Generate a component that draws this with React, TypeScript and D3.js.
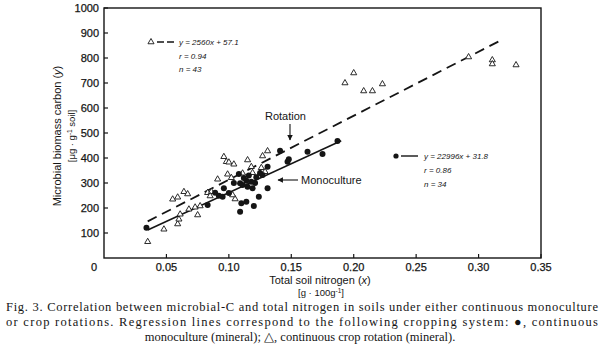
import React from "react";
import * as d3 from "d3";

const rotationX = [0.193,0.200,0.208,0.215,0.223,0.292,0.311,0.311,0.330,0.035,0.048,0.059,0.060,0.061,0.055,0.059,0.064,0.067,0.068,0.073,0.075,0.077,0.083,0.086,0.091,0.096,0.098,0.100,0.104,0.099,0.102,0.105,0.103,0.111,0.115,0.118,0.119,0.126,0.127,0.131,0.125,0.129,0.085];
const rotationY = [700,740,668,668,696,804,792,776,772,65,115,136,155,175,235,243,265,256,195,203,172,208,261,265,315,405,385,383,375,335,321,236,252,339,392,365,341,361,408,428,339,345,248];

const monoX = [0.034,0.083,0.092,0.096,0.095,0.089,0.108,0.109,0.111,0.114,0.115,0.118,0.119,0.122,0.110,0.114,0.109,0.120,0.124,0.131,0.127,0.131,0.141,0.148,0.147,0.163,0.175,0.187,0.100,0.104,0.112,0.116,0.121,0.125];
const monoY = [121,212,249,279,245,261,336,299,292,309,285,305,279,323,219,225,185,208,245,279,332,365,429,395,385,425,416,468,260,300,320,330,300,340];

const xTicks = [0.05,0.10,0.15,0.20,0.25,0.30,0.35];
const xTickLabels = ["0.05","0.10","0.15","0.20","0.25","0.30","0.35"];
const yTicks = [100,200,300,400,500,600,700,800,900,1000];

const rotLine = { slope: 2560, intercept: 57.1, x0: 0.035, x1: 0.32 };
const monoLine = { slope: 2299.6, intercept: 31.8, x0: 0.035, x1: 0.19 };

const caption = [
  "Fig. 3. Correlation between microbial-C and total nitrogen in soils under either continuous monoculture",
  "or crop rotations. Regression lines correspond to the following cropping system: \u25CF, continuous",
  "monoculture (mineral); \u25B3, continuous crop rotation (mineral).",
];

export default function App() {
  const x = d3.scaleLinear().domain([0, 0.35]).range([104, 541]);
  const y = d3.scaleLinear().domain([0, 1000]).range([258, 8]);
  const line = d3.line<[number, number]>().x(d => x(d[0])).y(d => y(d[1]));
  const tri = d3.symbol().type(d3.symbolTriangle).size(16)();
  const ink = "#151515";
  const sans = "'Liberation Sans', Arial, sans-serif";
  const serif = "'Liberation Serif', 'Times New Roman', serif";
  const rotPts: [number, number][] = [[rotLine.x0, rotLine.slope * rotLine.x0 + rotLine.intercept], [rotLine.x1, rotLine.slope * rotLine.x1 + rotLine.intercept]];
  const monoPts: [number, number][] = [[monoLine.x0, monoLine.slope * monoLine.x0 + monoLine.intercept], [monoLine.x1, monoLine.slope * monoLine.x1 + monoLine.intercept]];

  return (
    <svg width={605} height={351} style={{ position: "absolute", left: 0, top: 0, background: "#fff" }}>
      <defs>
        <marker id="ah" viewBox="0 0 10 10" refX="9" refY="5" markerWidth="5" markerHeight="5" orient="auto">
          <path d="M0,0 L10,5 L0,10 z" fill={ink} />
        </marker>
      </defs>
      {/* frame */}
      <rect x={x(0)} y={y(1000)} width={x(0.35) - x(0)} height={y(0) - y(1000)} fill="none" stroke={ink} strokeWidth={1.4} />
      {/* y ticks */}
      {yTicks.map(t => (
        <g key={t}>
          <line x1={x(0)} x2={x(0) + 4} y1={y(t)} y2={y(t)} stroke={ink} strokeWidth={1.2} />
          <text x={99} y={y(t) + 4} textAnchor="end" fontFamily={sans} fontSize={11} fill={ink} stroke={ink} strokeWidth={0.25}>{t}</text>
        </g>
      ))}
      {/* x ticks */}
      {xTicks.map((t, i) => (
        <g key={t}>
          <line x1={x(t)} x2={x(t)} y1={y(0)} y2={y(0) - 4} stroke={ink} strokeWidth={1.2} />
          <text x={x(t)} y={271} textAnchor="middle" fontFamily={sans} fontSize={11} fill={ink} stroke={ink} strokeWidth={0.25}>{xTickLabels[i]}</text>
        </g>
      ))}
      <text x={94} y={271} textAnchor="middle" fontFamily={sans} fontSize={11} fill={ink} stroke={ink} strokeWidth={0.25}>0</text>

      {/* axis titles */}
      <text transform="translate(61,136) rotate(-90)" textAnchor="middle" fontFamily={sans} fontSize={11} fill={ink}>Microbial biomass carbon (<tspan fontStyle="italic">y</tspan>)</text>
      <text transform="translate(75,136) rotate(-90)" textAnchor="middle" fontFamily={sans} fontSize={9.5} fill={ink}>[μg · g<tspan dy={-3} fontSize={6.5}>-1</tspan><tspan dy={3}> soil]</tspan></text>
      <text x={320} y={284} textAnchor="middle" fontFamily={sans} fontSize={11} fill={ink}>Total soil nitrogen (<tspan fontStyle="italic">x</tspan>)</text>
      <text x={321} y={296} textAnchor="middle" fontFamily={sans} fontSize={9.5} fill={ink}>[g · 100g<tspan dy={-3} fontSize={6.5}>-1</tspan><tspan dy={3}>]</tspan></text>

      {/* regression lines */}
      <path d={line(rotPts) || ""} stroke={ink} strokeWidth={1.8} fill="none" strokeDasharray="10,6" />
      <path d={line(monoPts) || ""} stroke={ink} strokeWidth={1.6} fill="none" />

      {/* points */}
      {rotationX.map((v, i) => (
        <path key={"r" + i} d={tri || ""} transform={`translate(${x(v)},${y(rotationY[i])})`} fill="#fff" stroke={ink} strokeWidth={0.9} />
      ))}
      {monoX.map((v, i) => (
        <circle key={"m" + i} cx={x(v)} cy={y(monoY[i])} r={3} fill={ink} />
      ))}

      {/* annotations */}
      <text x={265} y={120} fontFamily={sans} fontSize={11} fill={ink}>Rotation</text>
      <line x1={290} x2={290} y1={124} y2={140} stroke={ink} strokeWidth={1.1} markerEnd="url(#ah)" />
      <text x={301} y={184} fontFamily={sans} fontSize={11} fill={ink}>Monoculture</text>
      <line x1={298} x2={278} y1={180} y2={180} stroke={ink} strokeWidth={1.1} markerEnd="url(#ah)" />

      {/* legend rotation */}
      <path d={tri || ""} transform="translate(151,42)" fill="#fff" stroke={ink} strokeWidth={0.9} />
      <line x1={157} x2={176} y1={42} y2={42} stroke={ink} strokeWidth={1.4} strokeDasharray="7,3" />
      <text x={179} y={45} fontFamily={sans} fontSize={8} fontStyle="italic" fill={ink}>y = 2560x + 57.1</text>
      <text x={179} y={59} fontFamily={sans} fontSize={8} fontStyle="italic" fill={ink}>r = 0.94</text>
      <text x={179} y={72} fontFamily={sans} fontSize={8} fontStyle="italic" fill={ink}>n = 43</text>

      {/* legend monoculture */}
      <circle cx={396} cy={156} r={2.6} fill={ink} />
      <line x1={401} x2={418} y1={156} y2={156} stroke={ink} strokeWidth={1.4} />
      <text x={424} y={159} fontFamily={sans} fontSize={8} fontStyle="italic" fill={ink}>y = 22996x + 31.8</text>
      <text x={424} y={173} fontFamily={sans} fontSize={8} fontStyle="italic" fill={ink}>r = 0.86</text>
      <text x={424} y={187} fontFamily={sans} fontSize={8} fontStyle="italic" fill={ink}>n = 34</text>

      {/* caption */}
      <text x={6} y={311} fontFamily={serif} fontSize={12.5} fill={ink} textLength={592} lengthAdjust="spacing">{caption[0]}</text>
      <text x={6} y={326} fontFamily={serif} fontSize={12.5} fill={ink} textLength={592} lengthAdjust="spacing">{caption[1]}</text>
      <text x={300} y={341} textAnchor="middle" fontFamily={serif} fontSize={12.5} fill={ink}>{caption[2]}</text>
    </svg>
  );
}
